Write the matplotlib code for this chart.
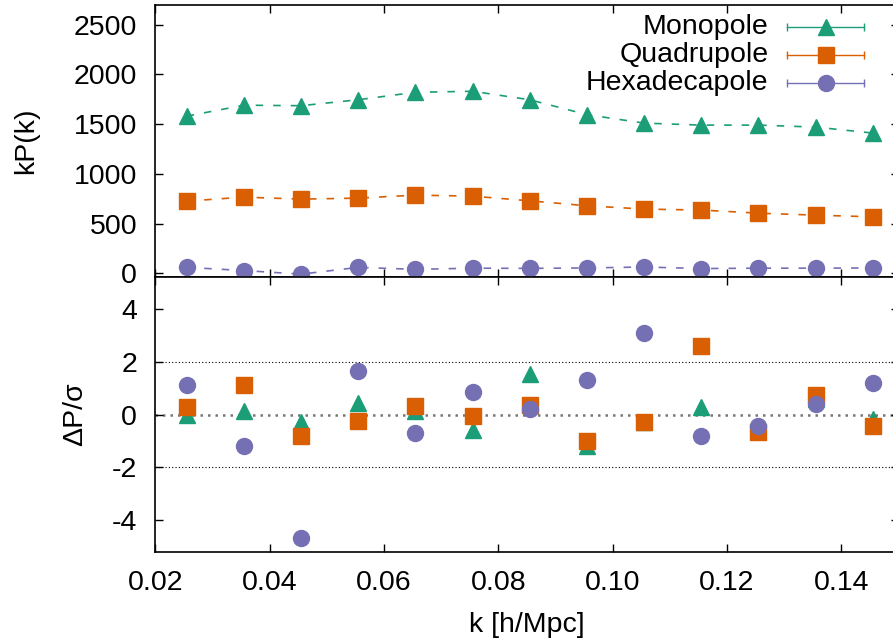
import matplotlib
matplotlib.use("Agg")
import matplotlib.pyplot as plt
from matplotlib.ticker import FormatStrFormatter, MultipleLocator

plt.rcParams['font.family'] = ['Liberation Sans', 'DejaVu Sans']
plt.rcParams['font.size'] = 20.5
plt.rcParams['axes.unicode_minus'] = False

# k bins
k = [0.0255, 0.0355, 0.0455, 0.0555, 0.0655, 0.0755, 0.0855,
     0.0955, 0.1055, 0.1155, 0.1255, 0.1355, 0.1455]

# kP(k) multipoles
mono = [1580, 1690, 1685, 1745, 1820, 1830, 1745, 1595, 1510, 1490, 1490, 1470, 1410]
quad = [726, 766, 746, 756, 786, 776, 729, 679, 646, 636, 605, 585, 568]
hexa = [60, 28, -8, 60, 40, 52, 50, 54, 64, 48, 52, 52, 54]

# residuals Delta P / sigma
res_mono = [0.0, 0.14, -0.27, 0.45, 0.15, -0.58, 1.52, -1.2, -0.3, 0.28, -0.6, 0.6, -0.18]
res_quad = [0.30, 1.10, -0.80, -0.24, 0.34, -0.07, 0.37, -1.0, -0.30, 2.61, -0.68, 0.75, -0.45]
res_hexa = [1.10, -1.19, -4.68, 1.66, -0.71, 0.85, 0.22, 1.29, 3.09, -0.82, -0.42, 0.41, 1.20]

labels = ['Monopole', 'Quadrupole', 'Hexadecapole']
colors = ['#1b9e77', '#d95f02', '#7570b3']
markers = ['^', 's', 'o']
msizes = [11.5, 11.5, 11.5]

fig = plt.figure(figsize=(8.93, 6.39), dpi=100)
ax1 = fig.add_axes([0.1739, 0.566, 0.8323, 0.4266])
ax2 = fig.add_axes([0.1739, 0.1366, 0.8323, 0.4294])

for y, c, m, ms in zip([mono, quad, hexa], colors, markers, msizes):
    ax1.plot(k, y, color=c, lw=1.2, dashes=(4.5, 6.0), zorder=2)
    ax1.plot(k, y, linestyle='none', marker=m, ms=ms, color=c, zorder=3)

for y, c, m, ms in zip([res_mono, res_quad, res_hexa], colors, markers, msizes):
    ax2.plot(k, y, linestyle='none', marker=m, ms=ms, color=c, zorder=3)

ax2.axhline(0, color='#777777', lw=1.8, ls=(0, (1, 2)), zorder=1)
ax2.axhline(2, color='black', lw=0.8, ls=(0, (1, 2)), zorder=1)
ax2.axhline(-2, color='black', lw=0.8, ls=(0, (1, 2)), zorder=1)

for ax in (ax1, ax2):
    ax.set_xlim(0.02, 0.15)
    ax.xaxis.set_major_locator(MultipleLocator(0.02))
    ax.tick_params(direction='in', length=6, width=1, top=True, right=True, pad=13)
    for s in ax.spines.values():
        s.set_linewidth(1.2)

ax1.set_ylim(-40, 2700)
ax1.yaxis.set_major_locator(MultipleLocator(500))
ax1.tick_params(labelbottom=False)
ax1.set_ylabel('kP(k)')
ax1.yaxis.set_label_coords(-0.1744, 0.5)
ax1.yaxis.label.set_va('center')

ax2.set_ylim(-5.2, 5.2)
ax2.yaxis.set_major_locator(MultipleLocator(2))
ax2.xaxis.set_major_formatter(FormatStrFormatter('%.2f'))
ax2.set_ylabel('\u0394P/\u03c3')
ax2.yaxis.set_label_coords(-0.108, 0.5)
ax2.yaxis.label.set_va('center')
ax2.set_xlabel('k [h/Mpc]')
ax2.xaxis.set_label_coords(0.5, -0.267)
ax2.xaxis.label.set_va('center')

# gnuplot style key: label on the left, errorbar sample on the right
rows = [0.918, 0.8155, 0.7128]
for lab, c, m, ms, yy in zip(labels, colors, markers, msizes, rows):
    ax1.text(0.8248, yy, lab, ha='right', va='center', transform=ax1.transAxes)
    ax1.plot([0.8502, 0.954], [yy, yy], color=c, lw=1, transform=ax1.transAxes, clip_on=False)
    ax1.plot([0.8502, 0.954], [yy, yy], linestyle='none', marker='|', ms=6, mew=1,
             color=c, transform=ax1.transAxes, clip_on=False)
    ax1.plot([0.9024], [yy], linestyle='none', marker=m, ms=ms, color=c,
             transform=ax1.transAxes, clip_on=False)

fig.savefig('out.png', dpi=100)
